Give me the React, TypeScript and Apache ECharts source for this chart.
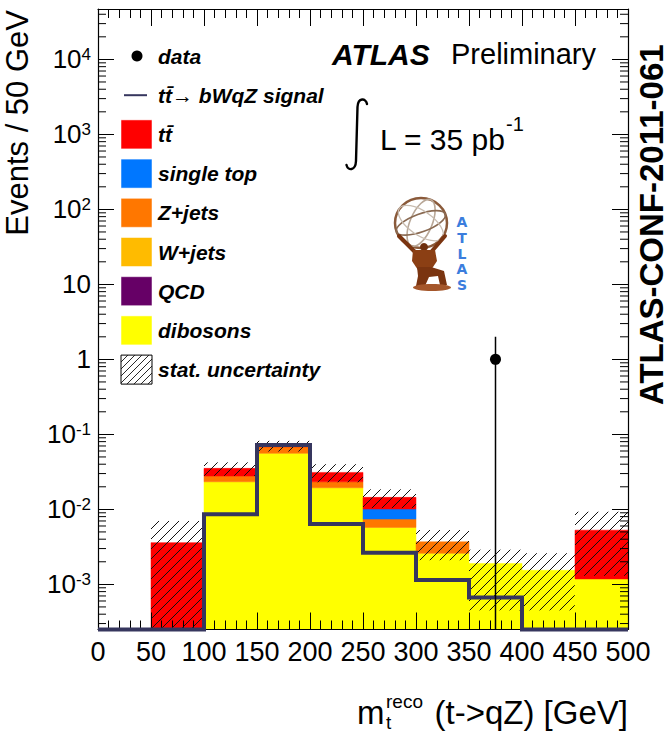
import React, { useEffect, useRef } from 'react';
import * as echarts from 'echarts';

// 50 GeV bins of the reconstructed top mass
const binLow = [0, 50, 100, 150, 200, 250, 300, 350, 400, 450];
const BIN_WIDTH = 50;

// Expected events per bin, by background process
const dibosons = [0, 0, 0.0233, 0.0558, 0.0194, 0.00575, 0.00259, 0.0019, 0.00154, 0.00118];
const qcd = [0, 0, 0, 0, 0, 0, 0, 0, 0, 0];
const wjets = [0, 0, 0, 0, 0, 0, 0, 0, 0, 0];
const zjets = [0, 0, 0.0045, 0.0122, 0.0039, 0.00168, 0.0011, 0, 0, 0];
const singleTop = [0, 0, 0, 0, 0, 0.00267, 0, 0, 0, 0];
const ttbar = [0, 0.0036, 0.0074, 0.0025, 0.0078, 0.00435, 0, 0, 0, 0.0041];

// tt -> bWqZ signal expectation
const signal = [0, 0, 0.0086, 0.072, 0.0064, 0.00264, 0.00114, 0.00067, 0, 0];

// Observed events
const dataCounts = [0, 0, 0, 0, 0, 0, 0, 1, 0, 0];

// Statistical uncertainty band on the total background
const statLow = [0, 0.0001, 0.028, 0.059, 0.023, 0.0104, 0.0021, 0.00045, 0.00045, 0.0013];
const statHigh = [0, 0.007, 0.0423, 0.082, 0.04, 0.0185, 0.0053, 0.0029, 0.0026, 0.0093];

// Decades labelled on the y axis
const yDecades = [-3, -2, -1, 0, 1, 2, 3, 4];

const Y_MIN = 2.5e-4;
const Y_MAX = 4.7e4;
const X_MIN = 0;
const X_MAX = 500;

const FONT = '"Liberation Sans", Arial, Helvetica, sans-serif';

const layers = [
  { name: 'dibosons', values: dibosons, color: '#FFFF00' },
  { name: 'QCD', values: qcd, color: '#660066' },
  { name: 'W+jets', values: wjets, color: '#FFBB00' },
  { name: 'Z+jets', values: zjets, color: '#FF7700' },
  { name: 'single top', values: singleTop, color: '#0077FF' },
  { name: 'tt\u0304', values: ttbar, color: '#FF0000' },
];

const SIGNAL_COLOR = '#36365e';

// integral sign used in the luminosity label
echarts.graphic.registerShape(
  'integralSign',
  echarts.graphic.extendPath(
    'M367,104 C366,98 358,97 357.5,107 L356,161 C355.5,171 348,171 346.5,165',
    {}
  ) as any
);

function hatchLines(x0: number, y0: number, x1: number, y1: number, spacing: number, width: number) {
  const out: any[] = [];
  const cStart = Math.ceil((x0 + y0) / spacing) * spacing;
  for (let c = cStart; c <= x1 + y1; c += spacing) {
    const xa = Math.max(x0, c - y1);
    const xb = Math.min(x1, c - y0);
    if (xb - xa < 0.5) continue;
    out.push({
      type: 'line',
      shape: { x1: xa, y1: c - xa, x2: xb, y2: c - xb },
      style: { stroke: '#111', lineWidth: width },
    });
  }
  return out;
}

function decadeLabel(e: number) {
  if (e === 0) return '{b|1}';
  if (e === 1) return '{b|10}';
  return '{b|10}{s|' + e + '}';
}

function buildOption() {
  const series: any[] = [];

  // stacked backgrounds with the hatched uncertainty drawn over them, bin by bin
  const stackRows = binLow.map((x, i) => {
    const total = layers.reduce((s, l) => s + l.values[i], 0);
    return [x, x + BIN_WIDTH, i, Math.max(total, Y_MIN)];
  });
  series.push({
    type: 'custom',
    name: 'background',
    clip: true,
    z: 2,
    encode: { x: [0, 1], y: 3 },
    data: stackRows,
    renderItem: (params: any, api: any) => {
      const x0 = api.value(0);
      const x1 = api.value(1);
      const i = api.value(2);
      const children: any[] = [];
      let base = 0;
      layers.forEach((layer) => {
        const v = layer.values[i];
        if (v > 0) {
          const p0 = api.coord([x0, base + v]);
          const p1 = api.coord([x1, Math.max(base, Y_MIN)]);
          children.push({
            type: 'rect',
            shape: { x: p0[0], y: p0[1], width: p1[0] - p0[0], height: p1[1] - p0[1] },
            style: { fill: layer.color, stroke: layer.color, lineWidth: 0.5 },
          });
        }
        base += v;
      });
      if (statHigh[i] > 0) {
        const h0 = api.coord([x0, statHigh[i]]);
        const h1 = api.coord([x1, Math.max(statLow[i], Y_MIN)]);
        children.push(...hatchLines(h0[0], h0[1], h1[0], h1[1], 10, 1));
      }
      return { type: 'group', children };
    },
  });

  // signal histogram outline
  series.push({
    type: 'custom',
    name: 'signal',
    clip: false,
    z: 6,
    data: [[X_MIN, Y_MIN]],
    renderItem: (params: any, api: any) => {
      const pts: number[][] = [];
      pts.push(api.coord([binLow[0], Y_MIN]));
      signal.forEach((v, i) => {
        const y = Math.max(v, Y_MIN);
        pts.push(api.coord([binLow[i], y]));
        pts.push(api.coord([binLow[i] + BIN_WIDTH, y]));
      });
      return {
        type: 'polyline',
        shape: { points: pts },
        style: { stroke: SIGNAL_COLOR, lineWidth: 4, fill: 'none', lineJoin: 'miter' },
      };
    },
  });

  // data points with Poisson errors
  const dataRows: number[][] = [];
  dataCounts.forEach((n, i) => {
    if (n > 0) dataRows.push([binLow[i] + BIN_WIDTH / 2, n, Math.sqrt(n)]);
  });
  series.push({
    type: 'custom',
    name: 'data',
    clip: true,
    z: 7,
    encode: { x: 0, y: 1 },
    data: dataRows,
    renderItem: (params: any, api: any) => {
      const x = api.value(0);
      const n = api.value(1);
      const e = api.value(2);
      const pc = api.coord([x, n]);
      const pl = api.coord([x, Math.max(n - e, Y_MIN)]);
      const ph = api.coord([x, n + e]);
      return {
        type: 'group',
        children: [
          { type: 'line', shape: { x1: pl[0], y1: pl[1], x2: ph[0], y2: ph[1] }, style: { stroke: '#000', lineWidth: 1.5 } },
          { type: 'circle', shape: { cx: pc[0], cy: pc[1], r: 5.5 }, style: { fill: '#000' } },
        ],
      };
    },
  });

  // logarithmic minor ticks on both vertical sides
  const minorVals: number[][] = [];
  for (let e = -4; e <= 4; e++) {
    for (let m = 2; m <= 9; m++) {
      const v = m * Math.pow(10, e);
      if (v > Y_MIN && v < Y_MAX) minorVals.push([v]);
    }
  }
  series.push({
    type: 'custom',
    name: 'minor',
    clip: false,
    silent: true,
    z: 8,
    data: minorVals,
    renderItem: (params: any, api: any) => {
      const v = api.value(0);
      const pl = api.coord([X_MIN, v]);
      const pr = api.coord([X_MAX, v]);
      return {
        type: 'group',
        children: [
          { type: 'line', shape: { x1: pl[0], y1: pl[1], x2: pl[0] + 8, y2: pl[1] }, style: { stroke: '#000', lineWidth: 1 } },
          { type: 'line', shape: { x1: pr[0] - 8, y1: pr[1], x2: pr[0], y2: pr[1] }, style: { stroke: '#000', lineWidth: 1 } },
        ],
      };
    },
  });

  const xAxisBase = (position: string, showLabel: boolean) => ({
    type: 'value',
    min: X_MIN,
    max: X_MAX,
    interval: 50,
    position,
    z: 5,
    axisLine: { show: true, onZero: false, lineStyle: { color: '#000', width: 1.2 } },
    axisTick: { show: true, inside: true, length: 17, lineStyle: { color: '#000', width: 1 } },
    minorTick: { show: true, splitNumber: 5, length: 9, lineStyle: { color: '#000', width: 1 } },
    axisLabel: { show: showLabel, color: '#000', fontSize: 27, fontFamily: FONT, margin: 9 },
    splitLine: { show: false },
    minorSplitLine: { show: false },
  });

  const yAxisBase = (position: string, showLabel: boolean) => ({
    type: 'log',
    logBase: 10,
    min: Y_MIN,
    max: Y_MAX,
    splitNumber: 8,
    position,
    z: 5,
    axisLine: { show: true, onZero: false, lineStyle: { color: '#000', width: 1.2 } },
    axisTick: { show: true, inside: true, length: 16, lineStyle: { color: '#000', width: 1 } },
    axisLabel: {
      show: showLabel,
      showMinLabel: false,
      showMaxLabel: false,
      margin: 7,
      formatter: (value: number) => {
        const e = Math.round(Math.log10(value));
        if (Math.abs(value / Math.pow(10, e) - 1) > 1e-6) return '';
        if (yDecades.indexOf(e) < 0) return '';
        return decadeLabel(e);
      },
      rich: {
        b: { fontSize: 26, fontFamily: FONT, color: '#000', lineHeight: 26 },
        s: { fontSize: 17, fontFamily: FONT, color: '#000', lineHeight: 17, verticalAlign: 'top' },
      },
    },
    splitLine: { show: false },
  });

  // legend
  const legendTop = 56;
  const legendStep = 39.2;
  const boxX = 121;
  const boxW = 31;
  const boxH = 29;
  const textX = 158;
  const legendFont = { fontSize: 21, fontWeight: 'bold', fontStyle: 'italic', fontFamily: FONT, fill: '#000' };
  const legendItems: any[] = [];
  const rowY = (k: number) => legendTop + k * legendStep;
  legendItems.push({ type: 'circle', shape: { cx: 137, cy: rowY(0), r: 5.5 }, style: { fill: '#000' } });
  legendItems.push({ type: 'text', x: textX, y: rowY(0), style: { ...legendFont, text: 'data', verticalAlign: 'middle' } });
  legendItems.push({ type: 'line', shape: { x1: 124, y1: rowY(1), x2: 147, y2: rowY(1) }, style: { stroke: SIGNAL_COLOR, lineWidth: 2 } });
  legendItems.push({ type: 'text', x: textX, y: rowY(1), style: { ...legendFont, text: 'tt\u0304\u2192 bWqZ signal', verticalAlign: 'middle' } });
  const legendOrder = [5, 4, 3, 2, 1, 0];
  legendOrder.forEach((li, k) => {
    const y = rowY(k + 2);
    legendItems.push({
      type: 'rect',
      shape: { x: boxX, y: y - boxH / 2, width: boxW, height: boxH },
      style: { fill: layers[li].color, stroke: 'rgba(255,255,255,0.5)', lineWidth: 1 },
    });
    legendItems.push({ type: 'text', x: textX, y, style: { ...legendFont, text: layers[li].name, verticalAlign: 'middle' } });
  });
  {
    const y = rowY(8);
    legendItems.push({
      type: 'rect',
      shape: { x: boxX, y: y - boxH / 2, width: boxW, height: boxH },
      style: { fill: '#fff', stroke: '#000', lineWidth: 1 },
    });
    legendItems.push({ type: 'group', children: hatchLines(boxX, y - boxH / 2, boxX + boxW, y + boxH / 2, 7, 0.9) });
    legendItems.push({ type: 'text', x: textX, y, style: { ...legendFont, text: 'stat. uncertainty', verticalAlign: 'middle' } });
  }

  // ATLAS logo: armillary globe held by a kneeling figure
  const gx = 421;
  const gy = 223;
  const logo: any[] = [
    { type: 'ellipse', shape: { cx: gx, cy: gy, rx: 26, ry: 25 }, style: { fill: 'none', stroke: '#8a5a3a', lineWidth: 2.5 } },
    { type: 'ellipse', shape: { cx: gx, cy: gy, rx: 11, ry: 25 }, rotation: -0.4, originX: gx, originY: gy, style: { fill: 'none', stroke: '#b9a898', lineWidth: 1.6 } },
    { type: 'ellipse', shape: { cx: gx, cy: gy, rx: 26, ry: 9 }, rotation: 0.35, originX: gx, originY: gy, style: { fill: 'none', stroke: '#8a6a52', lineWidth: 1.6 } },
    { type: 'ellipse', shape: { cx: gx, cy: gy, rx: 26, ry: 12 }, rotation: -0.6, originX: gx, originY: gy, style: { fill: 'none', stroke: '#c8bcb0', lineWidth: 1.3 } },
    { type: 'line', shape: { x1: 399, y1: 236, x2: 414, y2: 251 }, style: { stroke: '#7a3410', lineWidth: 4, lineCap: 'round' } },
    { type: 'line', shape: { x1: 445, y1: 236, x2: 432, y2: 251 }, style: { stroke: '#7a3410', lineWidth: 4, lineCap: 'round' } },
    { type: 'circle', shape: { cx: 424, cy: 247, r: 4 }, style: { fill: '#6e2f0e' } },
    {
      type: 'polygon',
      shape: { points: [[413, 250], [435, 250], [437, 261], [431, 270], [418, 270], [412, 261]] },
      style: { fill: '#8b3f14' },
    },
    {
      type: 'polygon',
      shape: { points: [[417, 267], [431, 267], [444, 271], [447, 285], [440, 285], [438, 276], [429, 277], [425, 286], [416, 286], [418, 276]] },
      style: { fill: '#7a3410' },
    },
    { type: 'ellipse', shape: { cx: 432, cy: 287.5, rx: 19, ry: 3.5 }, style: { fill: '#a4562a' } },
  ];
  const logoLetters = ['A', 'T', 'L', 'A', 'S'];
  logoLetters.forEach((ch, k) => {
    logo.push({
      type: 'text',
      x: 462,
      y: 222 + k * 15.8,
      style: {
        text: ch,
        fontSize: 14,
        lineHeight: 14,
        fontWeight: 'bold',
        fontFamily: '"DejaVu Sans", sans-serif',
        fill: '#3b7ddd',
        align: 'center',
        verticalAlign: 'middle',
      },
    });
  });

  const graphic: any[] = [
    // y axis title
    {
      type: 'text',
      x: 17,
      y: 10,
      rotation: Math.PI / 2,
      style: { text: 'Events / 50 GeV', fontSize: 31, lineHeight: 31, fontFamily: FONT, fill: '#000', align: 'right', verticalAlign: 'middle' },
    },
    // x axis title
    { type: 'text', x: 357, y: 712, style: { text: 'm', fontSize: 33, fontFamily: FONT, fill: '#000', verticalAlign: 'middle' } },
    { type: 'text', x: 386, y: 701, style: { text: 'reco', fontSize: 19, fontFamily: FONT, fill: '#000', verticalAlign: 'middle' } },
    { type: 'text', x: 386, y: 722, style: { text: 't', fontSize: 19, fontFamily: FONT, fill: '#000', verticalAlign: 'middle' } },
    { type: 'text', x: 628, y: 712, style: { text: '(t->qZ) [GeV]', fontSize: 33, fontFamily: FONT, fill: '#000', align: 'right', verticalAlign: 'middle' } },
    // experiment label
    { type: 'text', x: 332, y: 54, style: { text: 'ATLAS', fontSize: 30, fontWeight: 'bold', fontStyle: 'italic', fontFamily: FONT, fill: '#000', verticalAlign: 'middle' } },
    { type: 'text', x: 451, y: 54, style: { text: 'Preliminary', fontSize: 29, fontFamily: FONT, fill: '#000', verticalAlign: 'middle' } },
    // luminosity
    { type: 'integralSign', shape: {}, style: { fill: 'none', stroke: '#000', lineWidth: 2.4, lineCap: 'round' } },
    { type: 'text', x: 380, y: 139, style: { text: 'L = 35 pb', fontSize: 30, fontFamily: FONT, fill: '#000', verticalAlign: 'middle' } },
    { type: 'text', x: 506, y: 124, style: { text: '-1', fontSize: 20, fontFamily: FONT, fill: '#000', verticalAlign: 'middle' } },
    // conference note reference
    {
      type: 'text',
      x: 651,
      y: 405,
      rotation: Math.PI / 2,
      style: { text: 'ATLAS-CONF-2011-061', fontSize: 33, lineHeight: 33, fontWeight: 'bold', fontFamily: FONT, fill: '#000', align: 'left', verticalAlign: 'middle' },
    },
    ...legendItems,
    ...logo,
  ];

  return {
    animation: false,
    backgroundColor: '#fff',
    grid: { left: 98, right: 40, top: 9, bottom: 103.5, containLabel: false },
    xAxis: [xAxisBase('bottom', true), xAxisBase('top', false)],
    yAxis: [yAxisBase('left', true), yAxisBase('right', false)],
    series,
    graphic,
  };
}

export default function App() {
  const ref = useRef<HTMLDivElement>(null);
  useEffect(() => {
    if (!ref.current) return;
    const chart = echarts.init(ref.current, undefined, { renderer: 'svg' });
    chart.setOption(buildOption() as any);
    return () => chart.dispose();
  }, []);
  return <div ref={ref} style={{ position: 'fixed', left: 0, top: 0, width: 668, height: 733 }} />;
}
